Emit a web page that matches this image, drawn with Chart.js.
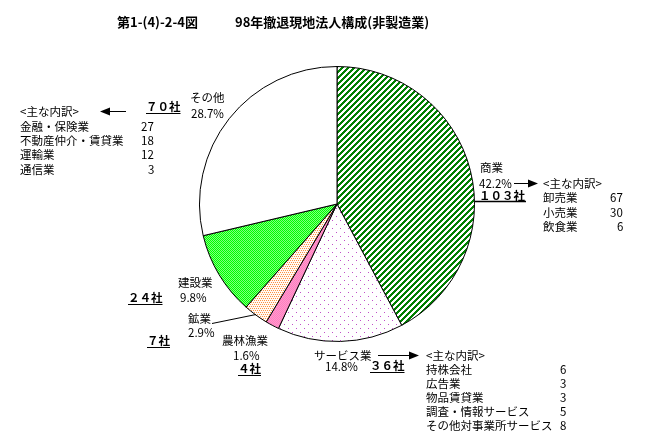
<!DOCTYPE html>
<html>
<head>
<meta charset="utf-8">
<script src="https://cdn.jsdelivr.net/npm/chart.js@4"></script>
<style>
html,body{margin:0;padding:0;background:#fff;}
#wrap{position:relative;width:650px;height:446px;overflow:hidden;}
canvas{position:absolute;left:0;top:0;}
.t{position:absolute;white-space:nowrap;font-family:"Noto Sans CJK JP","Noto Sans",sans-serif;font-size:11.5px;line-height:14px;color:#000;}
.b{font-weight:bold;}
.u{text-decoration:underline;text-underline-offset:2px;}
.ttl{font-size:13px;font-weight:bold;line-height:16px;}
</style>
</head>
<body>
<div id="wrap"><canvas id="c" width="650" height="446"></canvas></div>
<script>
// ---- data ----
const titleNo = '第1-(4)-2-4図';
const titleText = '98年撤退現地法人構成(非製造業)';
const categories = ['商業', 'サービス業', '農林漁業', '鉱業', '建設業', 'その他'];
const shares = [42.2, 14.8, 1.6, 2.9, 9.8, 28.7];
const counts = [103, 36, 4, 7, 24, 70];
const breakdownHeader = '<主な内訳>';
const otherItems = ['金融・保険業', '不動産仲介・賃貸業', '運輸業', '通信業'];
const otherCounts = [27, 18, 12, 3];
const commerceItems = ['卸売業', '小売業', '飲食業'];
const commerceCounts = [67, 30, 6];
const serviceItems = ['持株会社', '広告業', '物品賃貸業', '調査・情報サービス', 'その他対事業所サービス'];
const serviceCounts = [6, 3, 3, 5, 8];

// ---- patterns ----
function tile(w, h, bg, fg, pts) {
  const c = document.createElement('canvas');
  c.width = w; c.height = h;
  const g = c.getContext('2d');
  g.fillStyle = bg; g.fillRect(0, 0, w, h);
  g.fillStyle = fg;
  pts.forEach(p => g.fillRect(p[0], p[1], 1, 1));
  return g.createPattern(c, 'repeat');
}
function stripePts(n, thick) {
  const p = [];
  for (let y = 0; y < n; y++) for (let x = 0; x < n; x++) if ((x + y) % n < thick) p.push([x, y]);
  return p;
}
const fills = [
  tile(6, 6, '#ffffff', '#008000', stripePts(6, 3)),
  tile(8, 8, '#ffffff', '#c050c8', [[0, 0], [4, 4]]),
  tile(2, 2, '#ff99cc', '#ff80c0', [[0, 0], [1, 1]]),
  tile(4, 4, '#fffaf5', '#ff9040', [[0, 0], [2, 0], [1, 2], [3, 2]]),
  tile(2, 2, '#80ff80', '#00ff00', [[0, 0], [1, 1]]),
  '#ffffff'
];

// ---- overlay lines / arrows ----
const overlay = {
  id: 'overlay',
  afterDraw(chart) {
    const g = chart.ctx;
    g.save();
    g.strokeStyle = '#000'; g.fillStyle = '#000'; g.lineWidth = 1;
    function line(x1, y1, x2, y2) { g.beginPath(); g.moveTo(x1, y1); g.lineTo(x2, y2); g.stroke(); }
    function arrow(x1, x2, y) {
      const dir = x2 > x1 ? 1 : -1;
      line(x1, y + 0.5, x2 - dir * 8, y + 0.5);
      g.beginPath(); g.moveTo(x2, y + 0.5); g.lineTo(x2 - dir * 10, y - 3.5); g.lineTo(x2 - dir * 10, y + 4.5); g.closePath(); g.fill();
    }
    arrow(126, 100, 111);
    arrow(514, 538, 183);
    arrow(378, 419, 355);
    line(212, 323.5, 256, 314.5);
    g.lineWidth = 1.5;
    line(475, 201.5, 526, 201.5);
    g.restore();
  }
};

new Chart(document.getElementById('c'), {
  type: 'pie',
  data: { labels: categories, datasets: [{ data: shares, backgroundColor: fills, borderColor: '#000', borderWidth: 1 }] },
  options: {
    responsive: false, animation: false,
    layout: { padding: { top: 66, bottom: 104, left: 199, right: 175 } },
    plugins: { legend: { display: false }, tooltip: { enabled: false } }
  },
  plugins: [overlay]
});

// ---- text ----
const wrap = document.getElementById('wrap');
function put(text, x, y, cls, right) {
  const d = document.createElement('div');
  d.className = 't ' + (cls || '');
  d.textContent = text;
  wrap.appendChild(d);
  const h = d.offsetHeight;
  d.style.top = (y - h / 2) + 'px';
  if (right) d.style.left = (x - d.offsetWidth) + 'px'; else d.style.left = x + 'px';
}
const fw = n => String(n).replace(/[0-9]/g, c => String.fromCharCode(c.charCodeAt(0) + 0xFEE0)) + '社';
const pct = v => v.toFixed(1) + '%';

put(titleNo, 117, 22, 'ttl');
put(titleText, 235, 22, 'ttl');

// その他
put(categories[5], 190, 97);
put(pct(shares[5]), 191, 113);
put(fw(counts[5]), 146, 106, 'b u');
put(breakdownHeader, 20, 111);
otherItems.forEach((s, i) => { put(s, 20, 126 + i * 14.2); put(String(otherCounts[i]), 154, 126 + i * 14.2, '', true); });

// 商業
put(categories[0], 480, 167);
put(pct(shares[0]), 479, 183);
put(fw(counts[0]), 479, 195, 'b');
put(breakdownHeader, 543, 183);
commerceItems.forEach((s, i) => { put(s, 543, 197 + i * 14.5); put(String(commerceCounts[i]), 623, 197 + i * 14.5, '', true); });

// 建設業
put(categories[4], 178, 282);
put(pct(shares[4]), 180, 297);
put(fw(counts[4]), 128, 297, 'b u');

// 鉱業
put(categories[3], 188, 318);
put(pct(shares[3]), 188, 332);
put(fw(counts[3]), 147, 340, 'b u');

// 農林漁業
put(categories[2], 222, 340);
put(pct(shares[2]), 233, 355);
put(fw(counts[2]), 238, 368, 'b u');

// サービス業
put(categories[1], 314, 355);
put(pct(shares[1]), 325, 366);
put(fw(counts[1]), 370, 365, 'b u');
put(breakdownHeader, 426, 355);
serviceItems.forEach((s, i) => { put(s, 426, 369 + i * 14); put(String(serviceCounts[i]), 566, 369 + i * 14, '', true); });
</script>
</body>
</html>
